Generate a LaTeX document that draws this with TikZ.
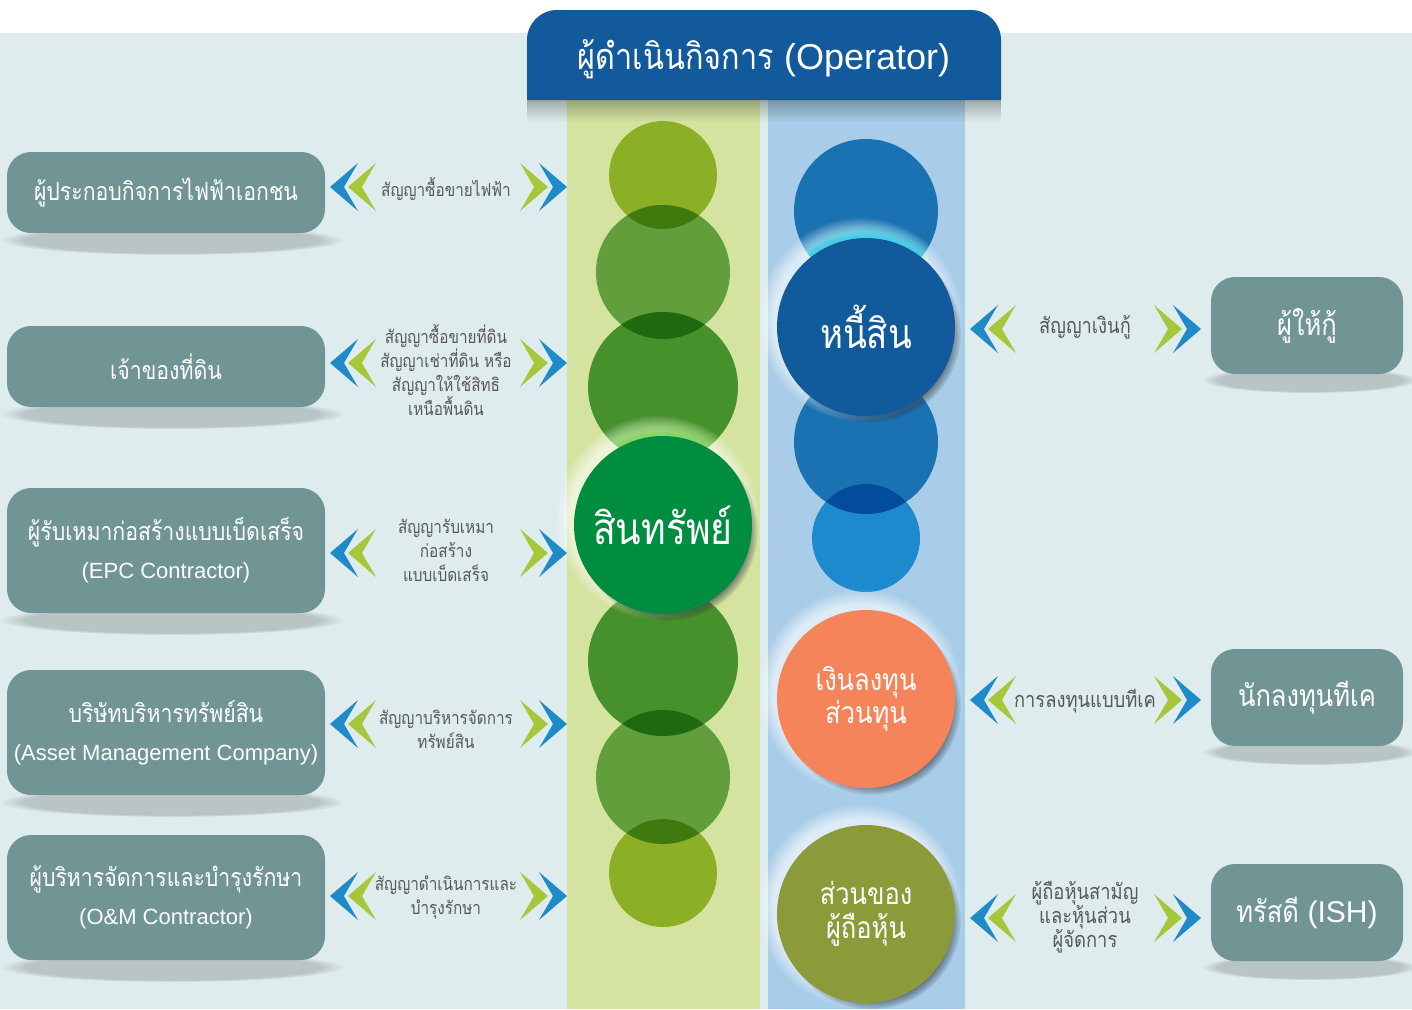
\documentclass[tikz,border=0pt]{standalone}
\usepackage{fontspec}
\setmainfont[Script=Thai, FakeStretch=0.85]{Loma}
\newfontfamily\lat{Liberation Sans}
\usetikzlibrary{fadings,shadows,calc}
\definecolor{bgc}{RGB}{223,236,238}
\definecolor{hdr}{RGB}{18,90,156}
\definecolor{gcol}{RGB}{212,227,160}
\definecolor{bcol}{RGB}{169,205,232}
\definecolor{boxc}{RGB}{113,149,149}
\definecolor{gA}{RGB}{139,176,38}
\definecolor{gB}{RGB}{98,158,60}
\definecolor{gC}{RGB}{71,145,45}
\definecolor{gAB}{RGB}{63,122,14}
\definecolor{gBC}{RGB}{31,106,16}
\definecolor{gmain}{RGB}{0,141,63}
\definecolor{glime}{RGB}{110,212,60}
\definecolor{bA}{RGB}{27,114,178}
\definecolor{bmain}{RGB}{17,90,156}
\definecolor{bD}{RGB}{28,138,204}
\definecolor{bCD}{RGB}{3,76,156}
\definecolor{bcyan}{RGB}{40,210,232}
\definecolor{orng}{RGB}{245,132,90}
\definecolor{olive}{RGB}{139,155,58}
\definecolor{chb}{RGB}{30,139,200}
\definecolor{chg}{RGB}{166,199,58}
\definecolor{txtg}{RGB}{88,88,88}
\definecolor{shd}{RGB}{45,55,65}
\tikzfading[name=fadedown, top color=transparent!0, bottom color=transparent!100]
\tikzset{
  lbox/.style={fill=boxc, rounded corners=12pt, text=white, align=center, inner sep=0pt,
    minimum width=159pt, font=\fontsize{12.5}{19}\selectfont},
  rbox/.style={fill=boxc, rounded corners=12pt, text=white, align=center, inner sep=0pt,
    minimum width=96pt, minimum height=48.5pt, font=\fontsize{15}{18}\selectfont},
  boxshadow/.style={fill=black, opacity=.17, path fading=circle with fuzzy edge 15 percent},
  ctxt/.style={text=txtg, align=center, inner sep=0pt, font=\fontsize{9}{12}\selectfont},
  rtxt/.style={ctxt, font=\fontsize{10.8}{12}\selectfont},
  disc/.style={circle, inner sep=0pt, minimum size=#1},
  bigdisc/.style={circle, inner sep=0pt, minimum size=89pt, text=white, align=center,
    circular drop shadow={shadow xshift=2.5pt, shadow yshift=-3pt, shadow scale=1.01, fill=shd, opacity=.85}},
  halo/.style={fill=white, opacity=.6, path fading=circle with fuzzy edge 15 percent},
  chevL/.pic={
    \fill[chb] (0,0) -- (28,-24) -- (14,0) -- (28,24) -- cycle;
    \fill[chg] (18,0) -- (46,-24) -- (32,0) -- (46,24) -- cycle;
  },
  chevR/.pic={
    \fill[chg] (-19,0) -- (-47,-24) -- (-33,0) -- (-47,24) -- cycle;
    \fill[chb] (0,0) -- (-28,-24) -- (-14,0) -- (-28,24) -- cycle;
  },
}
\begin{document}
\begin{tikzpicture}[x=0.5pt, y=-0.5pt]
\useasboundingbox (0,0) rectangle (1412,1009);
% background
\fill[white] (0,0) rectangle (1412,1009);
\fill[bgc] (0,33) rectangle (1412,1009);
% box shadows
\foreach \yy in {240,414,620,802,967} \fill[boxshadow] (172,\yy) ellipse [x radius=172, y radius=15];
\foreach \yy in {380,752,967} \fill[boxshadow] (1310,\yy) ellipse [x radius=108, y radius=13];
% columns
\fill[gcol] (567,100) rectangle (760,1009);
\fill[bcol] (768,100) rectangle (965,1009);
\fill[black, opacity=.28, path fading=fadedown] (527,100) rectangle (1001,122);
% green stack
\node[disc=54pt, fill=gA] (ga) at (663,175) {};
\node[disc=67pt, fill=gB] (gb) at (663,272) {};
\begin{scope}\clip (ga.center) circle (54); \fill[gAB] (gb.center) circle (67);\end{scope}
\node[disc=75pt, fill=gC] (gc) at (663,387) {};
\begin{scope}\clip (gb.center) circle (67); \fill[gBC] (gc.center) circle (75);\end{scope}
\node[disc=75pt, fill=gC] (ge) at (663,661) {};
\node[disc=67pt, fill=gB] (gf) at (663,777) {};
\begin{scope}\clip (ge.center) circle (75); \fill[gBC] (gf.center) circle (67);\end{scope}
\node[disc=54pt, fill=gA] (gg) at (663,873) {};
\begin{scope}\clip (gf.center) circle (67); \fill[gAB] (gg.center) circle (54);\end{scope}
\fill[halo] (657,517) circle (102);
\begin{scope}\clip (gc.center) circle (75);
  \foreach \k/\o in {16/.12,12/.16,8/.22,4/.3} \fill[glime, opacity=\o] (663,525) circle (89+\k);
\end{scope}
\node[bigdisc, fill=gmain, font=\fontsize{22}{24}\selectfont] (gm) at (663,525) {สินทรัพย์};
% blue stack
\node[disc=72pt, fill=bA] (ba) at (866,211) {};
\node[disc=72pt, fill=bA] (bc) at (866,442) {};
\node[disc=54pt, fill=bD] (bd) at (866,538) {};
\begin{scope}\clip (bc.center) circle (72); \fill[bCD] (bd.center) circle (54);\end{scope}
\fill[halo] (860,319) circle (102);
\begin{scope}\clip (ba.center) circle (72);
  \foreach \k/\o in {14/.15,10/.22,6/.32,3/.45} \fill[bcyan, opacity=\o] (866,327) circle (89+\k);
\end{scope}
\node[bigdisc, fill=bmain, font=\fontsize{20.5}{24}\selectfont] (bm) at (866,327) {หนี้สิน};
\fill[halo] (860,691) circle (102);
\node[bigdisc, fill=orng, font=\fontsize{15}{16.5}\selectfont] (bo) at (866,699) {เงินลงทุน\\ส่วนทุน};
\fill[halo] (860,906) circle (102);
\node[bigdisc, fill=olive, font=\fontsize{15}{17}\selectfont] (bl) at (866,914) {ส่วนของ\\ผู้ถือหุ้น};
% header
\fill[hdr] (527,100) [rounded corners=15pt] -- (527,10) -- (1001,10) [sharp corners] -- (1001,100) -- cycle;
\node[text=white, inner sep=0pt, font=\fontsize{18}{20}\selectfont] (hd) at (764,59) {ผู้ดำเนินกิจการ {\lat (Operator)}};
% left boxes
\node[lbox, minimum height=40.5pt] (l1) at (166,192.5) {ผู้ประกอบกิจการไฟฟ้าเอกชน};
\node[lbox, minimum height=40.5pt] (l2) at (166,366.5) {เจ้าของที่ดิน};
\node[lbox, minimum height=62.5pt] (l3) at (166,550.5) {ผู้รับเหมาก่อสร้างแบบเบ็ดเสร็จ\\{\lat\fontsize{11}{19}\selectfont (EPC Contractor)}};
\node[lbox, minimum height=62.5pt] (l4) at (166,732.5) {บริษัทบริหารทรัพย์สิน\\{\lat\fontsize{11}{19}\selectfont (Asset Management Company)}};
\node[lbox, minimum height=62.5pt] (l5) at (166,897.5) {ผู้บริหารจัดการและบำรุงรักษา\\{\lat\fontsize{11}{19}\selectfont (O\&M Contractor)}};
% right boxes
\node[rbox] (r1) at (1307,325.5) {ผู้ให้กู้};
\node[rbox] (r2) at (1307,697.5) {นักลงทุนทีเค};
\node[rbox] (r3) at (1307,912.5) {ทรัสดี {\lat (ISH)}};
% chevrons
\foreach \yy in {187,363,553,724,896} {
  \pic at (330,\yy) {chevL};
  \pic at (567,\yy) {chevR};
}
\foreach \yy in {329,700,918} {
  \pic at (970,\yy) {chevL};
  \pic at (1201,\yy) {chevR};
}
% contract texts
\node[ctxt] (t1) at (446,189) {สัญญาซื้อขายไฟฟ้า};
\node[ctxt] (t2) at (446,370) {สัญญาซื้อขายที่ดิน\\สัญญาเช่าที่ดิน หรือ\\สัญญาให้ใช้สิทธิ\\เหนือพื้นดิน};
\node[ctxt] (t3) at (446,550) {สัญญารับเหมา\\ก่อสร้าง\\แบบเบ็ดเสร็จ};
\node[ctxt] (t4) at (446,729) {สัญญาบริหารจัดการ\\ทรัพย์สิน};
\node[ctxt] (t5) at (446,897) {สัญญาดำเนินการและ\\บำรุงรักษา};
\node[rtxt] (s1) at (1085,327) {สัญญาเงินกู้};
\node[rtxt] (s2) at (1085,701) {การลงทุนแบบทีเค};
\node[rtxt] (s3) at (1085,917) {ผู้ถือหุ้นสามัญ\\และหุ้นส่วน\\ผู้จัดการ};
\end{tikzpicture}
\end{document}
